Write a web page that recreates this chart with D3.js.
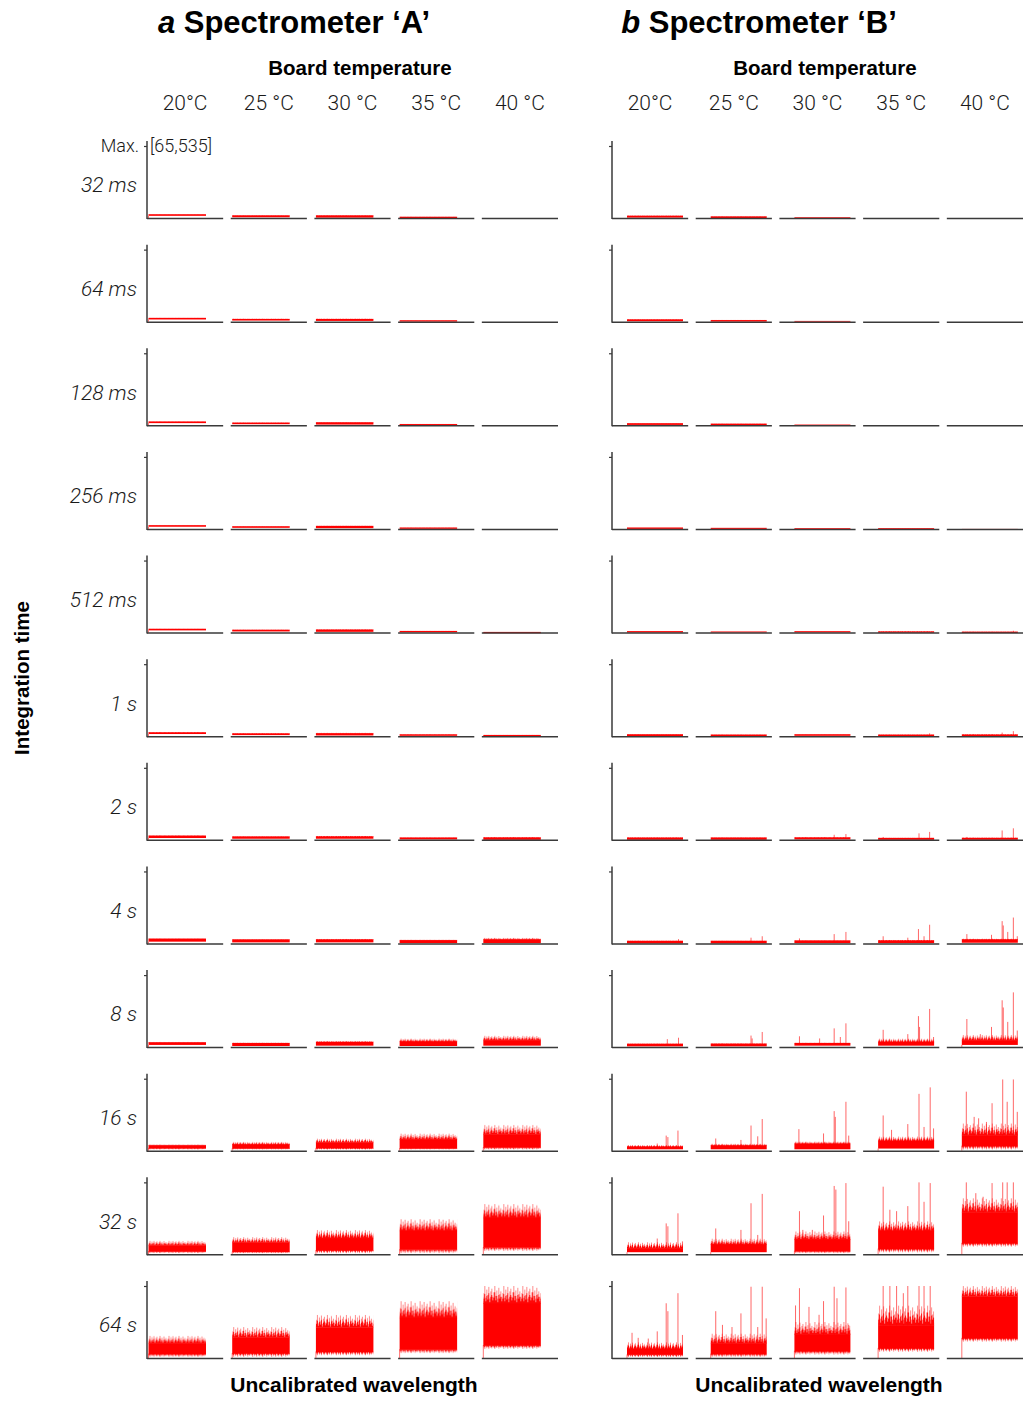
<!DOCTYPE html>
<html>
<head>
<meta charset="utf-8">
<script src="https://cdn.jsdelivr.net/npm/d3@7"></script>
<style>
  body { margin: 0; background: #fff; }
  .light { font-family: Roboto, "Helvetica Neue", "Liberation Sans", sans-serif; font-weight: 300; fill: #1a1a1a; }
  .bold { font-family: "Liberation Sans", Arial, sans-serif; font-weight: bold; fill: #000; }
</style>
</head>
<body>
<div class="chart"></div>
<script>
var temps = ["20°C", "25 °C", "30 °C", "35 °C", "40 °C"];
var times = ["32 ms", "64 ms", "128 ms", "256 ms", "512 ms", "1 s", "2 s", "4 s", "8 s", "16 s", "32 s", "64 s"];

// all values are % of the full scale (65,535 counts)
// spectrometer A: bottom of the noise band, top of the dense band, top of the sparse peaks
var lowA = [
  [3, 1, 0.5, 0, 0], [3, 1.5, 1, 0, 0], [3, 1.5, 1, 0, 0], [3, 1.5, 1, 0.3, 0],
  [3, 1.5, 1, 0.3, 0], [3, 1.5, 1, 0.5, 0], [2.5, 1.5, 1.5, 0.5, 0], [2.5, 1.5, 1.5, 0.5, 0.5],
  [3, 1.5, 2, 1.5, 2], [4, 3.5, 4, 3.5, 5], [4.5, 4, 6, 7, 10], [6, 7, 9, 12, 18]
];
var denseA = [
  [4.5, 3, 3, 1, 0], [4.5, 3, 3, 1.2, 0], [4.5, 3, 3.5, 1, 0], [4.5, 3, 3.5, 1.2, 0],
  [4.5, 3.2, 3.5, 1.5, 0.2], [4.5, 3.2, 3.5, 1.8, 1], [5, 4, 4, 2.5, 2.5], [6, 5, 5, 4, 5],
  [6, 5, 6.5, 7, 9], [7, 8, 11, 15, 22], [12, 16, 22, 32, 50], [20, 28, 42, 55, 75]
];
var peakA = [
  [5.5, 4, 4, 2, 0], [5.5, 4.5, 4.5, 2, 0], [5.5, 4, 4.5, 2, 0], [5.5, 4, 4.5, 2, 0],
  [5.5, 4.2, 4.5, 2.5, 0.8], [6, 4.5, 5, 3, 2], [6.5, 5, 5.5, 3.5, 4], [7, 6, 6.5, 5.5, 8],
  [7.5, 6.5, 8.5, 12, 16], [9, 12.5, 17, 24, 36], [19, 24, 34, 49, 70], [31, 43, 60, 79, 100]
];

// spectrometer B
var lowB = [
  [0.5, 0, 0.5, 0, 0], [0.5, 0, 0.5, 0, 0], [0.5, 0, 0.5, 0, 0], [0, 0, 0.5, 0, 0],
  [0, 0, 0.5, 0, 0], [0, 0, 0.5, 0, 0], [0, 0, 0.5, 0, 0], [0, 0, 0.5, 0.5, 1],
  [1, 1, 2, 2, 3], [2, 2, 2, 3, 7], [3, 3, 5, 8, 16], [5, 6, 10, 14, 28]
];
var denseB = [
  [2.5, 1.5, 1, 0, 0], [2.5, 1.5, 1, 0, 0], [2.2, 1.5, 1, 0, 0], [2, 1.5, 1, 0.3, 0],
  [2, 1.5, 1.2, 0.8, 0.5], [2, 1.5, 2, 1.5, 1.5], [2.5, 2.5, 2.5, 2, 2], [3, 3, 3.5, 3.5, 5],
  [4, 4, 5, 6.5, 9], [5, 6.5, 9, 13, 21], [8, 13, 20, 32, 58], [12, 20, 32, 45, 85]
];
var peakB = [
  [3.5, 2.5, 1.5, 0, 0], [3.5, 2.5, 1.5, 0, 0], [3, 2.5, 1.5, 0, 0], [2.5, 2, 1.5, 1, 0.3],
  [2.5, 2, 1.8, 2, 1.5], [3, 2.5, 3, 2.5, 3], [3.5, 3.5, 4, 3, 3.5], [4, 4, 4.5, 5, 7],
  [5, 5.5, 6.5, 12, 17], [8, 10, 13, 20, 38], [17, 22, 32, 46, 78], [22, 34, 50, 73, 100]
];

// hot pixels of B: [position along the detector (0-1), height %]
var hotB = [
  [[], [], [], [], []],
  [[], [], [], [], []],
  [[], [], [], [], []],
  [[], [], [], [], []],
  [[], [], [], [], [[0.92, 2.5]]],
  [[], [], [], [[0.92, 4]], [[0.72, 5], [0.92, 7]]],
  [[], [], [[0.71, 7], [0.92, 8]], [[0.09, 4], [0.73, 9], [0.92, 11]], [[0.09, 4], [0.72, 13], [0.92, 16]]],
  [[[0.92, 6]], [[0.72, 8], [0.92, 10]], [[0.09, 7], [0.71, 13], [0.92, 16]],
   [[0.09, 10], [0.53, 8], [0.72, 20], [0.82, 10], [0.92, 26]],
   [[0.09, 13], [0.53, 12], [0.72, 31], [0.74, 25], [0.82, 16], [0.92, 36], [0.99, 10]]],
  [[[0.72, 11], [0.92, 13]], [[0.72, 16], [0.74, 12], [0.92, 21]],
   [[0.09, 15], [0.45, 12], [0.71, 26], [0.82, 14], [0.92, 33]],
   [[0.09, 24], [0.53, 18], [0.72, 43], [0.74, 28], [0.92, 53], [0.99, 14]],
   [[0.09, 39], [0.33, 18], [0.53, 28], [0.72, 65], [0.74, 55], [0.82, 35], [0.92, 76], [0.99, 23]]],
  [[[0.54, 10], [0.70, 21], [0.73, 19], [0.91, 28]],
   [[0.09, 17], [0.54, 15], [0.72, 35], [0.84, 20], [0.92, 44]],
   [[0.08, 30], [0.52, 24], [0.71, 55], [0.73, 47], [0.92, 68], [0.97, 21]],
   [[0.09, 49], [0.24, 29], [0.53, 37], [0.73, 79], [0.82, 33], [0.93, 88], [0.99, 31]],
   [[0.08, 82], [0.22, 47], [0.30, 45], [0.44, 40], [0.54, 66], [0.73, 99], [0.81, 68], [0.92, 99], [0.99, 54]]],
  [[[0.54, 22], [0.70, 43], [0.73, 39], [0.91, 57], [0.99, 18]],
   [[0.09, 36], [0.54, 34], [0.72, 71], [0.84, 27], [0.92, 84]],
   [[0.09, 60], [0.15, 34], [0.32, 34], [0.52, 54], [0.71, 95], [0.74, 90], [0.92, 99], [0.97, 46]],
   [[0.09, 94], [0.21, 62], [0.33, 60], [0.53, 67], [0.73, 100], [0.82, 73], [0.93, 99]],
   [[0.08, 100], [0.25, 85], [0.38, 80], [0.54, 99], [0.73, 100], [0.81, 100], [0.92, 100]]],
  [[[0.09, 35], [0.2, 28], [0.38, 27], [0.54, 37], [0.70, 76], [0.73, 65], [0.91, 90], [0.99, 32]],
   [[0.09, 65], [0.21, 46], [0.38, 43], [0.54, 62], [0.72, 99], [0.84, 43], [0.92, 99], [0.99, 55]],
   [[0.02, 73], [0.09, 97], [0.26, 71], [0.44, 60], [0.52, 79], [0.71, 99], [0.76, 83], [0.92, 98], [0.97, 46]],
   [[0.09, 100], [0.21, 100], [0.33, 100], [0.45, 90], [0.53, 100], [0.73, 100], [0.82, 100], [0.93, 100]],
   []]
];

var svgWidth = 1023;
var svgHeight = 1401;
var axisColor = "#3a3a3a";

// noise texture for the jagged top of each band (relative bar heights: pale outer, solid inner)
var textureOuter = [0.6, 1, 0.35, 0.8, 0.5, 0.95, 0.3, 0.7, 0.85, 0.4, 0.65, 1, 0.45, 0.75, 0.3, 0.9, 0.55, 0.7, 0.4];
var textureInner = [0.3, 0.55, 0.15, 0.45, 0.25, 0.6, 0.1, 0.4, 0.5, 0.2, 0.35, 0.65, 0.2, 0.45, 0.1, 0.5, 0.3, 0.4, 0.15];
var pad = 4; // empty margin in each pattern tile, keeps tiles from bleeding

var svg = d3.select(".chart")
  .append("svg")
  .attr("width", svgWidth)
  .attr("height", svgHeight);

var defs = svg.append("defs");

var spectrometers = [
  { key: "A", letter: "a", left: 147, span: [1.5, 59], low: lowA, dense: denseA, peak: peakA, hot: null },
  { key: "B", letter: "b", left: 612, span: [15, 71], low: lowB, dense: denseB, peak: peakB, hot: hotB }
];

var colScale = d3.scaleBand().domain(temps).range([0, 411]).paddingInner(0.09);
var rowScale = d3.scalePoint().domain(times).range([218, 1358]);
var yScale = d3.scaleLinear().domain([0, 100]).range([0, -72]);

// pattern of vertical noise bars, standing up (or hanging down when flip) inside [py, py + h]
function noisePattern(id, px, py, h, flip) {
  var pat = defs.append("pattern")
    .attr("id", id)
    .attr("patternUnits", "userSpaceOnUse")
    .attr("x", px)
    .attr("y", flip ? py : py - pad)
    .attr("width", textureOuter.length)
    .attr("height", h + pad);
  var top = flip ? 0 : pad;
  [[textureOuter, 0.45], [textureInner, 0.95]].forEach(function(layer) {
    pat.selectAll(null)
      .data(layer[0])
      .enter().append("rect")
        .attr("x", function(f, i) { return i; })
        .attr("width", 1)
        .attr("y", function(f) { return flip ? top : top + h * (1 - f); })
        .attr("height", function(f) { return h * f; })
        .attr("fill", "red")
        .attr("fill-opacity", layer[1]);
  });
}

spectrometers.forEach(function(s) {
  var g = svg.append("g").attr("transform", "translate(" + s.left + ",0)");
  var x = d3.scaleLinear().domain([0, 1]).range(s.span);
  var bw = colScale.bandwidth();

  // titles
  var title = g.append("text")
    .attr("class", "bold")
    .attr("x", 147)
    .attr("y", 33)
    .attr("text-anchor", "middle")
    .style("font-size", "31px");
  title.append("tspan").style("font-style", "italic").text(s.letter);
  title.append("tspan").text(" Spectrometer \u2018" + s.key + "\u2019");

  g.append("text")
    .attr("class", "bold")
    .attr("x", 213)
    .attr("y", 75)
    .attr("text-anchor", "middle")
    .style("font-size", "20.5px")
    .text("Board temperature");

  g.selectAll(".temp")
    .data(temps)
    .enter().append("text")
      .attr("class", "light temp")
      .attr("x", function(d) { return colScale(d) + bw / 2; })
      .attr("y", 110)
      .attr("text-anchor", "middle")
      .style("font-size", "21px")
      .text(function(d) { return d; });

  g.append("text")
    .attr("class", "bold")
    .attr("x", 207)
    .attr("y", 1392)
    .attr("text-anchor", "middle")
    .style("font-size", "21px")
    .text("Uncalibrated wavelength");

  times.forEach(function(t, r) {
    temps.forEach(function(c, j) {
      var p = g.append("g")
        .attr("transform", "translate(" + colScale(c) + "," + rowScale(t) + ")");
      var lo = s.low[r][j], hi = s.dense[r][j], pk = s.peak[r][j];
      var id = "tex" + s.key + r + "_" + j;

      // first pixel reads zero: thin line from the axis up to the band
      if (lo > 2) {
        p.append("line")
          .attr("x1", x(0)).attr("x2", x(0))
          .attr("y1", yScale(0)).attr("y2", yScale(lo))
          .attr("stroke", "red")
          .attr("stroke-opacity", 0.55)
          .attr("stroke-width", 1);
      }

      // sparse peaks on top of the band
      var h = yScale(hi) - yScale(pk);
      if (h > 0.4) {
        noisePattern(id, x(0), yScale(pk), h, false);
        p.append("rect")
          .attr("x", x(0))
          .attr("width", x(1) - x(0))
          .attr("y", yScale(pk))
          .attr("height", h)
          .attr("fill", "url(#" + id + ")");
      }

      // ragged lower edge of the thicker bands
      var depth = Math.min(4, yScale(0) - yScale(lo) - 1);
      if (lo > 3 && depth > 1) {
        noisePattern(id + "low", x(0), yScale(lo), depth, true);
        p.append("rect")
          .attr("x", x(0))
          .attr("width", x(1) - x(0))
          .attr("y", yScale(lo))
          .attr("height", depth)
          .attr("fill", "url(#" + id + "low)");
      }

      // hot pixels
      if (s.hot) {
        p.selectAll(".hot")
          .data(s.hot[r][j])
          .enter().append("line")
            .attr("class", "hot")
            .attr("x1", function(d) { return x(d[0]); })
            .attr("x2", function(d) { return x(d[0]); })
            .attr("y1", yScale(hi))
            .attr("y2", function(d) { return yScale(d[1]); })
            .attr("stroke", "red")
            .attr("stroke-opacity", 0.6)
            .attr("stroke-width", 1);
      }

      // dense band (overlaps the seams of the noise texture by half a pixel)
      if (pk > 0) {
        var big = (h > 0.4) ? 0.5 : 0;
        p.append("rect")
          .attr("x", x(0))
          .attr("width", x(1) - x(0))
          .attr("y", yScale(hi) - big)
          .attr("height", Math.max(yScale(lo) - yScale(hi), 0.8) + big + (lo > 3 ? 0.5 : 0))
          .attr("fill", "red");
      }

      // x baseline
      p.append("line")
        .attr("x1", 0).attr("x2", bw)
        .attr("y1", 0.5).attr("y2", 0.5)
        .attr("stroke", axisColor)
        .attr("stroke-width", 1.5);

      // y axis on the first column
      if (j === 0) {
        p.append("line")
          .attr("x1", 0).attr("x2", 0)
          .attr("y1", 1).attr("y2", yScale(100) - 5)
          .attr("stroke", axisColor)
          .attr("stroke-width", 1.5);
        var yAxis = d3.axisLeft(yScale)
          .tickValues([100])
          .tickSizeInner(3)
          .tickSizeOuter(0)
          .tickFormat(function() { return (s.key === "A" && r === 0) ? "Max." : ""; });
        var ax = p.append("g").call(yAxis);
        ax.select(".domain").remove();
        ax.selectAll(".tick line").attr("stroke", axisColor).attr("stroke-width", 1.2);
        ax.selectAll(".tick text")
          .attr("class", "light")
          .attr("x", -8)
          .style("font-size", "18px")
          .style("font-family", null);
        if (s.key === "A" && r === 0) {
          p.append("text")
            .attr("class", "light")
            .attr("x", 3)
            .attr("y", yScale(100))
            .attr("dy", "0.32em")
            .style("font-size", "18px")
            .text("[65,535]");
        }
        if (s.key === "A") {
          p.append("text")
            .attr("class", "light")
            .attr("x", -10)
            .attr("y", -33)
            .attr("dy", "0.35em")
            .attr("text-anchor", "end")
            .style("font-size", "21px")
            .style("font-style", "italic")
            .text(t);
        }
      }
    });
  });
});

svg.append("text")
  .attr("class", "bold")
  .attr("transform", "translate(29,678) rotate(-90)")
  .attr("text-anchor", "middle")
  .style("font-size", "20.5px")
  .text("Integration time");
</script>
</body>
</html>
